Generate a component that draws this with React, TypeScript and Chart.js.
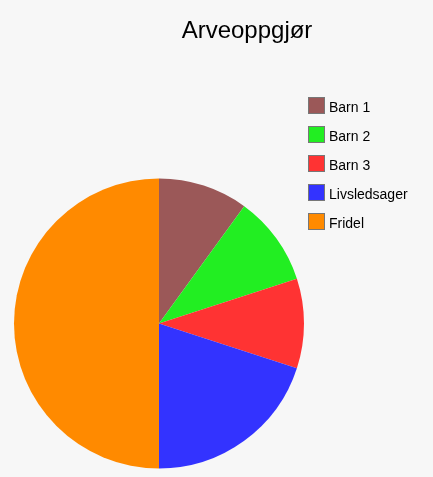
import React, { useEffect, useRef } from "react";
import { Chart, registerables } from "chart.js";

Chart.register(...registerables);

const chartTitle = "Arveoppgjør";
const categories = ["Barn 1", "Barn 2", "Barn 3", "Livsledsager", "Fridel"];
const shares = [10, 10, 10, 20, 50];
const sliceColors = ["#9b5858", "#22ee22", "#ff3333", "#3333ff", "#ff8a00"];

const sideLegendPlugin = {
  id: "sideLegend",
  afterDraw(chart: any) {
    const ctx = chart.ctx as CanvasRenderingContext2D;
    const labels = chart.data.labels as string[];
    const colors = chart.data.datasets[0].backgroundColor as string[];
    ctx.save();
    // title
    ctx.fillStyle = "#000";
    ctx.font = "24px 'Liberation Sans', Arial, sans-serif";
    ctx.textAlign = "center";
    ctx.textBaseline = "alphabetic";
    ctx.fillText(chartTitle, 247, 38);
    // legend
    ctx.font = "14px 'Liberation Sans', Arial, sans-serif";
    ctx.textAlign = "left";
    labels.forEach((label, i) => {
      const y = 97.5 + i * 29;
      ctx.fillStyle = colors[i];
      ctx.fillRect(308.5, y, 16, 16);
      ctx.strokeStyle = "#777777";
      ctx.lineWidth = 1;
      ctx.strokeRect(308.5, y, 16, 16);
      ctx.fillStyle = "#000";
      ctx.fillText(label, 329, 112 + i * 29);
    });
    ctx.restore();
  },
};

export default function App() {
  const canvasRef = useRef<HTMLCanvasElement | null>(null);

  useEffect(() => {
    if (!canvasRef.current) return;
    const chart = new Chart(canvasRef.current, {
      type: "pie",
      data: {
        labels: categories,
        datasets: [
          {
            data: shares,
            backgroundColor: sliceColors,
            borderWidth: 0,
          },
        ],
      },
      options: {
        responsive: false,
        animation: false,
        layout: { padding: { left: 14, right: 129, top: 178.5, bottom: 8.5 } },
        plugins: {
          legend: { display: false },
          title: { display: false },
          tooltip: { enabled: false },
        },
      },
      plugins: [sideLegendPlugin],
    });
    return () => chart.destroy();
  }, []);

  return (
    <div
      style={{
        position: "fixed",
        left: 0,
        top: 0,
        width: 433,
        height: 477,
        background: "#f7f7f7",
        overflow: "hidden",
      }}
    >
      <canvas ref={canvasRef} width={433} height={477} style={{ display: "block" }} />
    </div>
  );
}
